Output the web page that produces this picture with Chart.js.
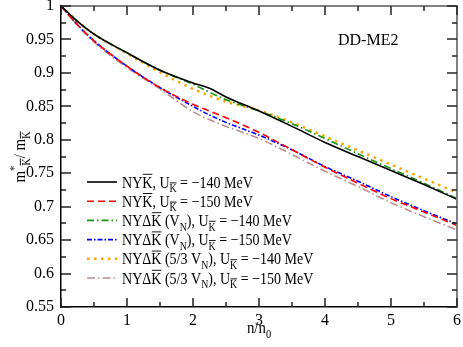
<!DOCTYPE html>
<html><head><meta charset="utf-8">
<script src="https://cdn.jsdelivr.net/npm/chart.js@4/dist/chart.umd.min.js"></script>
<style>html,body{margin:0;padding:0;background:#fff}canvas{display:block}</style>
</head><body>
<canvas id="c" width="463" height="347"></canvas>
<script>
// ---- data ----
const densities = [0, 0.25, 0.5, 1, 1.5, 2, 2.25, 2.5, 3, 3.5, 4, 4.5, 5, 5.5, 6];
const nyK_140      = [1, 0.977, 0.958, 0.930, 0.904, 0.885, 0.877, 0.864, 0.843, 0.820, 0.796, 0.775, 0.754, 0.733, 0.711];
const nyK_150      = [1, 0.972, 0.948, 0.910, 0.878, 0.853, 0.843, 0.833, 0.811, 0.785, 0.759, 0.735, 0.712, 0.692, 0.672];
const nyDK_VN_140  = [1, 0.977, 0.958, 0.930, 0.904, 0.883, 0.871, 0.860, 0.843, 0.824, 0.802, 0.779, 0.757, 0.735, 0.712];
const nyDK_VN_150  = [1, 0.972, 0.948, 0.910, 0.878, 0.850, 0.837, 0.826, 0.807, 0.785, 0.760, 0.738, 0.715, 0.694, 0.674];
const nyDK_53_140  = [1, 0.977, 0.958, 0.929, 0.901, 0.876, 0.866, 0.857, 0.844, 0.826, 0.805, 0.784, 0.763, 0.742, 0.721];
const nyDK_53_150  = [1, 0.971, 0.946, 0.908, 0.876, 0.842, 0.830, 0.820, 0.802, 0.778, 0.753, 0.730, 0.706, 0.685, 0.665];
const seriesNames = [
  'NYK̄, UK̄ = −140 MeV', 'NYK̄, UK̄ = −150 MeV',
  'NYΔK̄ (VN), UK̄ = −140 MeV', 'NYΔK̄ (VN), UK̄ = −150 MeV',
  'NYΔK̄ (5/3 VN), UK̄ = −140 MeV', 'NYΔK̄ (5/3 VN), UK̄ = −150 MeV'
];
const xTickValues = [0, 1, 2, 3, 4, 5, 6];
const yTickValues = [0.55, 0.6, 0.65, 0.7, 0.75, 0.8, 0.85, 0.9, 0.95, 1];
const modelLabel = 'DD-ME2';

// rich-text label pieces (o = overline, s = sub/sup)
const legendRich = [
  [{t:'NY'},{t:'K',o:1},{t:', U'},{t:'K',s:'sub',o:1},{t:' = −140 MeV'}],
  [{t:'NY'},{t:'K',o:1},{t:', U'},{t:'K',s:'sub',o:1},{t:' = −150 MeV'}],
  [{t:'NYΔ'},{t:'K',o:1},{t:' (V'},{t:'N',s:'sub'},{t:'), U'},{t:'K',s:'sub',o:1},{t:' = −140 MeV'}],
  [{t:'NYΔ'},{t:'K',o:1},{t:' (V'},{t:'N',s:'sub'},{t:'), U'},{t:'K',s:'sub',o:1},{t:' = −150 MeV'}],
  [{t:'NYΔ'},{t:'K',o:1},{t:' (5/3 V'},{t:'N',s:'sub'},{t:'), U'},{t:'K',s:'sub',o:1},{t:' = −140 MeV'}],
  [{t:'NYΔ'},{t:'K',o:1},{t:' (5/3 V'},{t:'N',s:'sub'},{t:'), U'},{t:'K',s:'sub',o:1},{t:' = −150 MeV'}]
];
const xTitleRich = [{t:'n/n'},{t:'0',s:'sub'}];
const yTitleRich = [{t:'m'},{t:'*',s:'sup'},{t:'K',s:'sub',o:1},{t:'/ m'},{t:'K',s:'sub',o:1}];

const SERIF = '"Liberation Serif","Times New Roman",serif';

function richWidth(ctx, segs, size){
  let w = 0;
  for (const s of segs){ ctx.font = (s.s ? size*0.7 : size) + 'px ' + SERIF; w += ctx.measureText(s.t).width; }
  return w;
}
function drawRich(ctx, segs, x, y, size, sx, align){
  ctx.save();
  ctx.translate(x, y); ctx.scale(sx, 1);
  let cx = 0;
  if (align === 'center') cx = -richWidth(ctx, segs, size)/2;
  ctx.textBaseline = 'alphabetic'; ctx.textAlign = 'left'; ctx.fillStyle = '#000';
  for (const s of segs){
    const fs = s.s ? size*0.7 : size;
    ctx.font = fs + 'px ' + SERIF;
    const dy = s.s === 'sub' ? size*0.28 : (s.s === 'sup' ? -size*0.42 : 0);
    ctx.fillText(s.t, cx, dy);
    const w = ctx.measureText(s.t).width;
    if (s.o){
      ctx.strokeStyle = '#000'; ctx.lineWidth = 1;
      const oy = dy - fs*0.8;
      ctx.beginPath(); ctx.moveTo(cx + fs*0.04, oy); ctx.lineTo(cx + w, oy); ctx.stroke();
    }
    cx += w;
  }
  ctx.restore();
}

const styles = [
  {color:'#000000', dash:[], width:1.6},
  {color:'#ff0000', dash:[7,4], width:1.6},
  {color:'#139413', dash:[7,3,1.5,3], width:1.6},
  {color:'#0000ff', dash:[5,2,1.5,2], width:1.6},
  {color:'#ffa500', dash:[2.5,4.5], width:2.5},
  {color:'#bc8f8f', dash:[8,3,1.5,3], width:1.6}
];
const seriesValues = [nyK_140, nyK_150, nyDK_VN_140, nyDK_VN_150, nyDK_53_140, nyDK_53_150];

const datasets = seriesValues.map((vals, i) => ({
  label: seriesNames[i],
  data: densities.map((x, j) => ({x: x, y: vals[j]})),
  borderColor: styles[i].color,
  borderDash: styles[i].dash,
  borderWidth: styles[i].width,
  pointRadius: 0,
  fill: false,
  cubicInterpolationMode: 'monotone'
}));

const decor = {
  id: 'decor',
  afterDatasetsDraw(chart){
    const ctx = chart.ctx, a = chart.chartArea;
    const xs = chart.scales.x, ys = chart.scales.y;
    ctx.save();
    // top & right frame
    ctx.strokeStyle = '#808080'; ctx.lineWidth = 2;
    ctx.beginPath(); ctx.moveTo(a.left, a.top); ctx.lineTo(a.right, a.top); ctx.lineTo(a.right, a.bottom); ctx.stroke();
    // ticks, inward
    ctx.strokeStyle = '#222'; ctx.lineWidth = 1.5;
    ctx.beginPath();
    for (let v = 0; v <= 6.0001; v += 0.5){
      const px = Math.round(xs.getPixelForValue(v)) ;
      const len = Math.abs(v - Math.round(v)) < 1e-6 ? 9 : 5;
      ctx.moveTo(px, a.bottom); ctx.lineTo(px, a.bottom - len);
      ctx.moveTo(px, a.top); ctx.lineTo(px, a.top + len);
    }
    for (let k = 0; k <= 18; k++){
      const v = 0.55 + k*0.025;
      const py = Math.round(ys.getPixelForValue(v));
      const len = k % 2 === 0 ? 10 : 5;
      ctx.moveTo(a.left, py); ctx.lineTo(a.left + len, py);
      ctx.moveTo(a.right, py); ctx.lineTo(a.right - len, py);
    }
    ctx.stroke();
    // legend
    chart.data.datasets.forEach((ds, i) => {
      const y = 182 + i*19.2;
      ctx.save();
      ctx.strokeStyle = ds.borderColor; ctx.lineWidth = ds.borderWidth;
      ctx.setLineDash(ds.borderDash);
      ctx.beginPath(); ctx.moveTo(87, y); ctx.lineTo(117, y); ctx.stroke();
      ctx.restore();
      drawRich(ctx, legendRich[i], 122, y + 5.5, 16.5, 0.85, 'left');
    });
    // model label
    drawRich(ctx, [{t:modelLabel}], 338, 45, 16.5, 0.97, 'left');
    // axis titles
    drawRich(ctx, xTitleRich, (a.left + a.right)/2, 333, 16.5, 0.9, 'center');
    ctx.save();
    ctx.translate(25, 157); ctx.rotate(-Math.PI/2);
    drawRich(ctx, yTitleRich, 0, 0, 16.5, 0.9, 'center');
    ctx.restore();
    ctx.restore();
  }
};

new Chart(document.getElementById('c'), {
  type: 'line',
  data: { datasets },
  options: {
    responsive: false, animation: false,
    layout: { padding: { top: 6, right: 6, left: 0, bottom: 0 } },
    plugins: { legend: { display: false }, tooltip: { enabled: false } },
    scales: {
      x: {
        type: 'linear', min: 0, max: 6,
        afterBuildTicks(s){ s.ticks = xTickValues.map(v => ({value: v})); },
        ticks: { color: '#000', font: { family: SERIF, size: 16 }, padding: 4, maxRotation: 0,
                 callback: v => String(v) },
        grid: { display: false, drawTicks: false },
        border: { color: '#000', width: 1.5 },
        afterFit(s){ s.height = 40; s.paddingLeft = 0; s.paddingRight = 0; }
      },
      y: {
        type: 'linear', min: 0.55, max: 1,
        afterBuildTicks(s){ s.ticks = yTickValues.map(v => ({value: v})); },
        ticks: { color: '#000', font: { family: SERIF, size: 16 }, padding: 7,
                 callback: v => String(+(+v).toFixed(2)) },
        grid: { display: false, drawTicks: false },
        border: { color: '#000', width: 1.5 },
        afterFit(s){ s.width = 61; s.paddingTop = 0; s.paddingBottom = 0; }
      }
    }
  },
  plugins: [decor]
});
</script>
</body></html>
